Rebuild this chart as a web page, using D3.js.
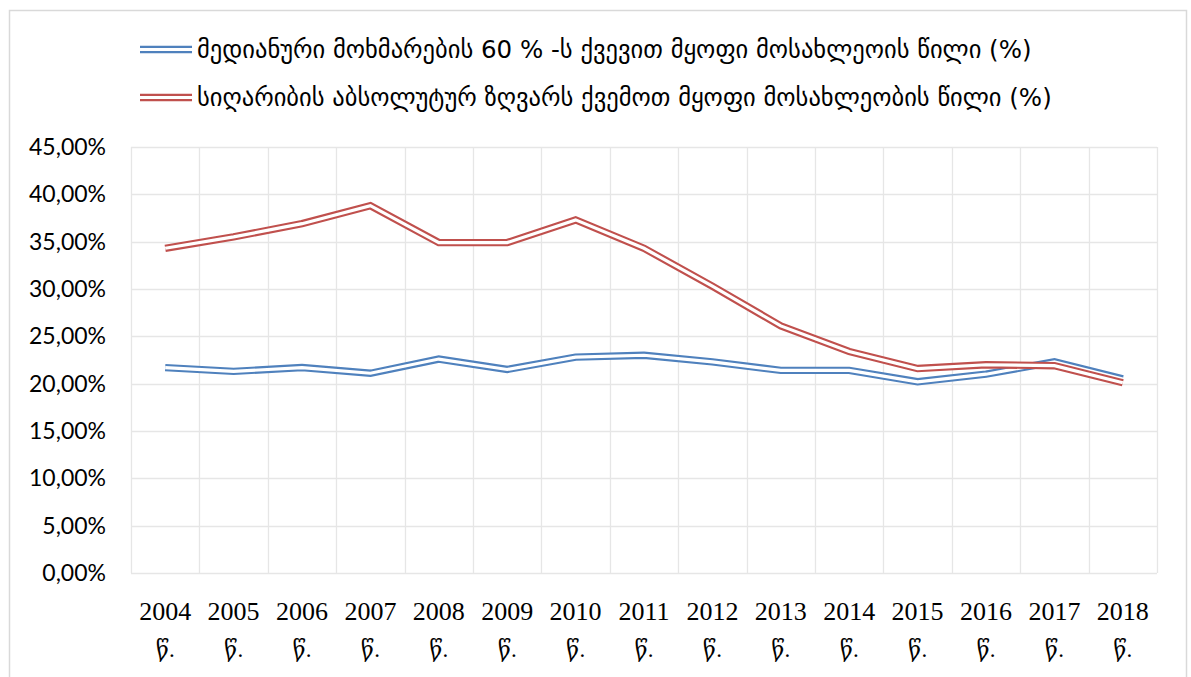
<!DOCTYPE html>
<html lang="ka">

<head>
    <meta charset="UTF-8">
    <title>Poverty shares</title>
    <script src="https://d3js.org/d3.v7.min.js"></script>
    <style>
        body,
        html {
            margin: 0;
            padding: 0;
            overflow: hidden;
            background: #fff;
        }

        svg {
            display: block;
        }
    </style>
</head>

<body>
    <script>
        // Data (percent)
        const years = ["2004", "2005", "2006", "2007", "2008", "2009", "2010", "2011",
            "2012", "2013", "2014", "2015", "2016", "2017", "2018"];
        const yearSuffix = "წ.";
        const belowMedian = [21.7, 21.3, 21.7, 21.1, 22.6, 21.5, 22.8, 23.0, 22.3, 21.4, 21.4, 20.2, 21.0, 22.3, 20.5];
        const absolutePoverty = [34.3, 35.5, 36.9, 38.8, 34.9, 34.9, 37.3, 34.3, 30.3, 26.1, 23.4, 21.6, 22.0, 21.9, 20.1];
        const yTicks = [0, 5, 10, 15, 20, 25, 30, 35, 40, 45];
        const seriesNames = [
            "მედიანური მოხმარების 60 % -ს ქვევით მყოფი მოსახლეოის წილი (%)",
            "სიღარიბის აბსოლუტურ ზღვარს ქვემოთ მყოფი მოსახლეობის წილი (%)"
        ];

        const width = 1191;
        const height = 677;

        const svg = d3.select("body")
            .append("svg")
            .attr("width", width)
            .attr("height", height);

        // outer chart border (bottom runs off the page)
        svg.append("rect")
            .attr("x", 9.5)
            .attr("y", 10.5)
            .attr("width", 1177)
            .attr("height", 700)
            .attr("fill", "#fff")
            .attr("stroke", "#d9d9d9")
            .attr("stroke-width", 1.5);

        const plot = { left: 131, right: 1157, top: 147, bottom: 573 };

        const x = d3.scaleBand()
            .domain(years)
            .range([plot.left, plot.right]);

        const y = d3.scaleLinear()
            .domain([0, 45])
            .range([plot.bottom, plot.top]);

        const gridColor = "#e6e6e6";

        // horizontal gridlines
        svg.append("g")
            .selectAll("line")
            .data(yTicks)
            .enter()
            .append("line")
            .attr("x1", plot.left)
            .attr("x2", plot.right)
            .attr("y1", d => Math.round(y(d)) + 0.5)
            .attr("y2", d => Math.round(y(d)) + 0.5)
            .attr("stroke", gridColor)
            .attr("stroke-width", 1.3);

        // vertical gridlines at category boundaries
        const bounds = years.map(d => x(d)).concat([plot.right]);
        svg.append("g")
            .selectAll("line")
            .data(bounds)
            .enter()
            .append("line")
            .attr("x1", d => Math.round(d) + 0.5)
            .attr("x2", d => Math.round(d) + 0.5)
            .attr("y1", plot.top)
            .attr("y2", plot.bottom)
            .attr("stroke", gridColor)
            .attr("stroke-width", 1.3);

        // y axis labels
        const locale = d3.formatLocale({ decimal: ",", thousands: " ", grouping: [3], currency: ["", ""] });
        const fmt = locale.format(".2f");
        const yAxis = d3.axisLeft(y)
            .tickValues(yTicks)
            .tickSize(0)
            .tickPadding(25)
            .tickFormat(d => fmt(d) + "%");

        svg.append("g")
            .attr("transform", `translate(${plot.left},0)`)
            .call(yAxis)
            .call(g => g.select(".domain").remove())
            .selectAll("text")
            .attr("font-family", "Lato, 'Open Sans', sans-serif")
            .attr("font-size", 23)
            .attr("fill", "#000");

        // x axis labels (two lines: year and suffix)
        const xLabels = svg.append("g")
            .selectAll("text")
            .data(years)
            .enter()
            .append("text")
            .attr("text-anchor", "middle")
            .attr("font-family", "'Liberation Serif', 'DejaVu Serif', serif")
            .attr("font-size", 26)
            .attr("fill", "#000")
            .attr("x", d => x(d) + x.bandwidth() / 2);

        xLabels.append("tspan")
            .attr("x", d => x(d) + x.bandwidth() / 2)
            .attr("y", 620)
            .text(d => d);
        xLabels.append("tspan")
            .attr("x", d => x(d) + x.bandwidth() / 2)
            .attr("y", 657)
            .attr("font-size", 23)
            .text(yearSuffix);

        // double-stroke lines (Excel compound style)
        const series = [
            { name: seriesNames[0], values: belowMedian, color: "#4f81bd" },
            { name: seriesNames[1], values: absolutePoverty, color: "#c0504d" }
        ];

        const line = d3.line()
            .x((d, i) => x(years[i]) + x.bandwidth() / 2)
            .y(d => y(d));

        series.forEach(s => {
            svg.append("path")
                .attr("d", line(s.values))
                .attr("fill", "none")
                .attr("stroke", s.color)
                .attr("stroke-width", 7.4);
            svg.append("path")
                .attr("d", line(s.values))
                .attr("fill", "none")
                .attr("stroke", "#fff")
                .attr("stroke-width", 3.2);
        });

        // legend
        const legend = svg.append("g")
            .selectAll("g")
            .data(series)
            .enter()
            .append("g")
            .attr("transform", (d, i) => `translate(140,${49.5 + i * 48})`);

        legend.append("line")
            .attr("x1", 0).attr("x2", 52)
            .attr("stroke", d => d.color)
            .attr("stroke-width", 7.4);
        legend.append("line")
            .attr("x1", 0).attr("x2", 52)
            .attr("stroke", "#fff")
            .attr("stroke-width", 3.2);

        legend.append("text")
            .attr("x", 57)
            .attr("y", 0)
            .attr("dy", "0.35em")
            .attr("font-family", "'DejaVu Sans', sans-serif")
            .attr("font-size", 24.5)
            .attr("fill", "#000")
            .text(d => d.name);
    </script>
</body>

</html>
